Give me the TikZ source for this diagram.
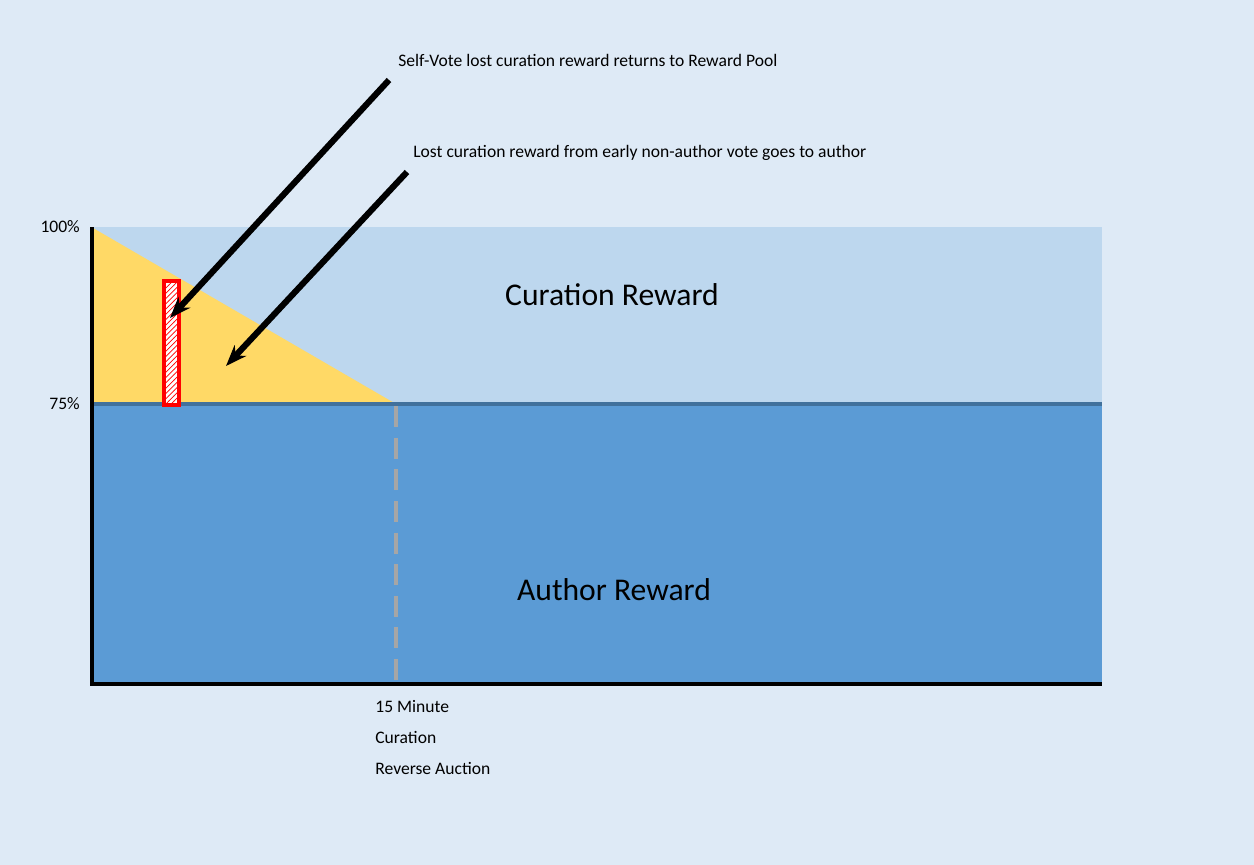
\documentclass[tikz,border=0pt]{standalone}
\usepackage{fontspec}
\setmainfont{Carlito}
\usepackage{xcolor}
\usetikzlibrary{arrows, arrows.meta, patterns}
\definecolor{bgblue}{HTML}{DEEAF6}
\definecolor{curblue}{HTML}{BDD7EE}
\definecolor{authblue}{HTML}{5B9BD5}
\definecolor{lineblue}{HTML}{41719C}
\definecolor{auctyellow}{HTML}{FFD966}
\tikzset{
  note/.style={anchor=west, inner sep=0pt, font=\fontsize{10}{12}\selectfont},
  callout/.style={-{Stealth[length=12pt,width=9pt]}, line width=3.5pt},
}
\begin{document}
\begin{tikzpicture}[x=0.02cm, y=-0.02cm]
\fill[bgblue] (0,0) rectangle (1254,865);
\useasboundingbox (0,0) rectangle (1254,865);
\fill[curblue] (93,227) rectangle (1102,404);
\fill[authblue] (93,404) rectangle (1102,684);
\fill[auctyellow] (93,228)--(93,404)--(396,404)--cycle;
\draw[lineblue, line width=2pt] (93,404)--(1102,404);
\draw[gray!70, line width=2pt, dash pattern=on 12pt off 6pt] (396,406)--(396,682);
% red hatched self vote
\fill[white] (164,281) rectangle (179,405);
\fill[pattern=north east lines, pattern color=red] (164,281) rectangle (179,405);
\draw[red, line width=2pt] (164,281) rectangle (179,405);
% axes
\draw[line width=2.5pt] (92,227)--(92,684)--(1102,684);
\node[anchor=east, font=\fontsize{10}{12}\selectfont] (top) at (86,227) {100\%};
\node[anchor=east, font=\fontsize{10}{12}\selectfont] (mid) at (86,404) {75\%};
\node[font=\fontsize{18}{22}\selectfont] (cur) at (612,295) {Curation Reward};
\node[font=\fontsize{18}{22}\selectfont] (auth) at (614,590) {Author Reward};
\node[note] (t1) at (375,707) {15 Minute};
\node[note] (t2) at (375,737) {Curation};
\node[note] (t3) at (375,768) {Reverse Auction};
% callouts
\node[note] (self) at (398,60) {Self-Vote lost curation reward returns to Reward Pool};
\node[note] (lost) at (413,153) {Lost curation reward from early non-author vote goes to author};
\coordinate (s0) at (389,80);
\coordinate (s1) at (170,318);
\coordinate (l0) at (407,172);
\coordinate (l1) at (226,366);
\draw[callout] (s0)--(s1);
\draw[callout] (l0)--(l1);
\end{tikzpicture}
\end{document}
